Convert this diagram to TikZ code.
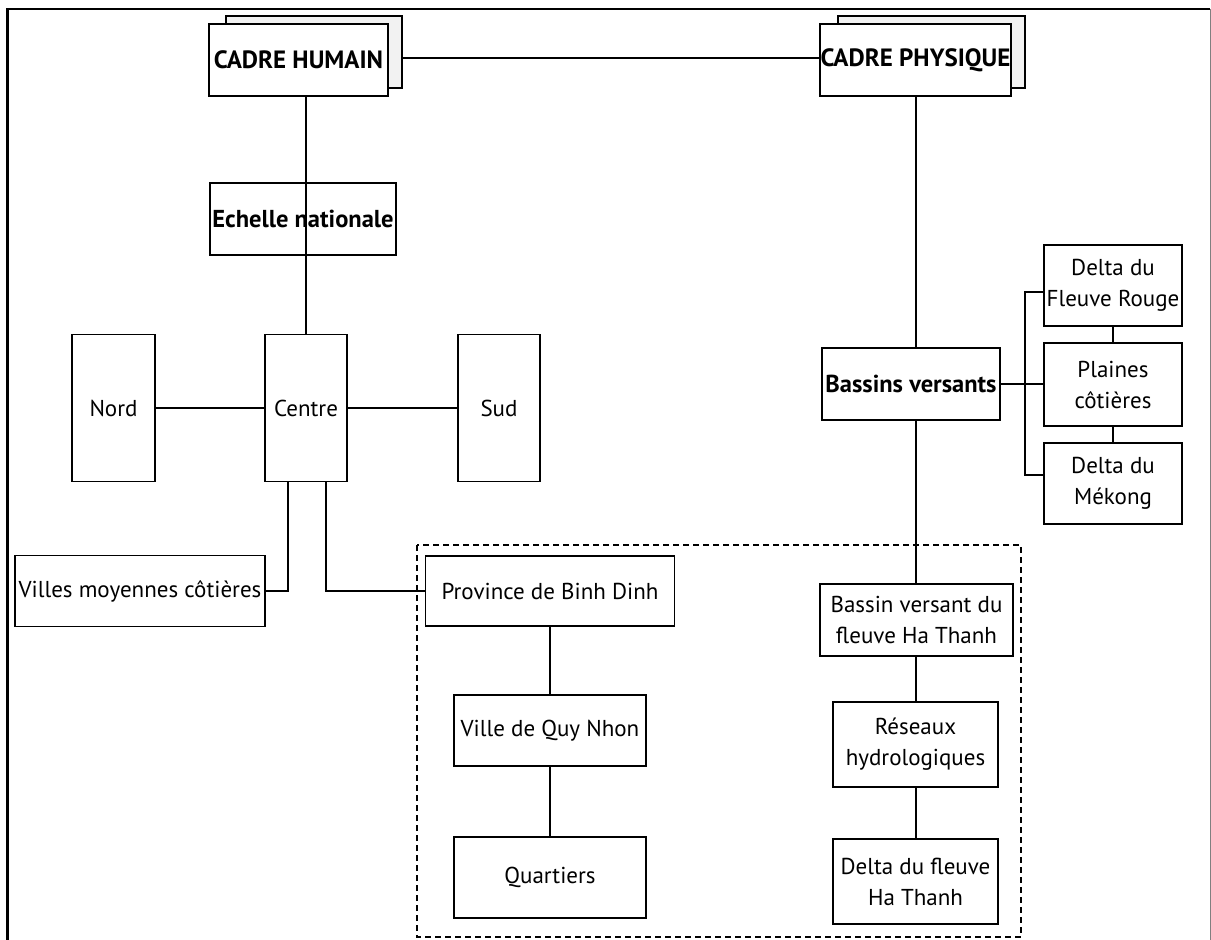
\documentclass[tikz,border=0pt]{standalone}
\usepackage{fontspec}
\setmainfont{PT Sans}
\begin{document}
\begin{tikzpicture}[x=1pt,y=-1pt,
  box/.style={draw,line width=1.8pt,inner sep=0pt,align=center,font=\fontsize{23}{31}\selectfont},
  bbox/.style={box,font=\bfseries\fontsize{24.5}{30}\selectfont},
  shadow/.style={draw,line width=1.8pt,fill=gray!10,inner sep=0pt},
  conn/.style={line width=1.8pt}]
\useasboundingbox (0,0) rectangle (1211,940);
% frame
\draw[line width=2.5pt] (7.5,940) -- (7.5,9) -- (1210,9);
\draw[gray,line width=0.8pt] (1210,9) -- (1210,940);
% dashed region
\draw[line width=1.8pt,dashed,dash pattern=on 6pt off 4pt] (417,545) rectangle (1021,937);
% top boxes
\node[shadow,minimum width=176pt,minimum height=72pt] (humB) at (314,52) {};
\node[bbox,minimum width=179pt,minimum height=72pt,fill=white,font=\bfseries\fontsize{25}{30}\selectfont] (hum) at (298.5,60) {CADRE HUMAIN};
\node[shadow,minimum width=187pt,minimum height=72pt] (phyB) at (931.5,52) {};
\node[bbox,minimum width=191pt,minimum height=72pt,fill=white,font=\bfseries\fontsize{25}{30}\selectfont] (phy) at (915.5,60) {CADRE PHYSIQUE};
% left branch
\node[bbox,minimum width=186pt,minimum height=72pt] (ech) at (303,219) {Echelle nationale};
\node[box,minimum width=82pt,minimum height=147pt] (cen) at (306,408) {Centre};
\node[box,minimum width=83pt,minimum height=147pt] (nord) at (113.5,408) {Nord};
\node[box,minimum width=82pt,minimum height=147pt] (sud) at (499,408) {Sud};
\node[box,minimum width=250pt,minimum height=71pt] (vil) at (140,591) {Villes moyennes côtières};
\node[box,minimum width=249pt,minimum height=70pt] (prov) at (550,591) {Province de Binh Dinh};
\node[box,minimum width=192pt,minimum height=71pt] (quy) at (550,730.5) {Ville de Quy Nhon};
\node[box,minimum width=192pt,minimum height=81pt] (quart) at (550,877.5) {Quartiers};
% right branch
\node[bbox,minimum width=178pt,minimum height=72pt] (bv) at (911,384) {Bassins versants};
\node[box,minimum width=138pt,minimum height=81pt] (dfr) at (1113,285.5) {Delta du\\Fleuve Rouge};
\node[box,minimum width=138pt,minimum height=83pt] (pc) at (1113,384.5) {Plaines\\côtières};
\node[box,minimum width=138pt,minimum height=81pt] (dm) at (1113,483.5) {Delta du\\Mékong};
\node[box,minimum width=193pt,minimum height=72pt] (bvh) at (916.5,620) {Bassin versant du\\fleuve Ha Thanh};
\node[box,minimum width=165pt,minimum height=85pt] (res) at (915.5,744.5) {Réseaux\\hydrologiques};
\node[box,minimum width=165pt,minimum height=85pt] (dfh) at (915.5,881.5) {Delta du fleuve\\Ha Thanh};
\coordinate (br) at (1025,384);
% connectors
\draw[conn] (humB.east |- 0,58) -- (phy.west |- 0,58);
\draw[conn] (hum.south -| cen.north) -- (ech.south -| cen.north);
\draw[conn] (ech.south -| cen.north) -- (cen.north);
\draw[conn] (nord.east) -- (cen.west);
\draw[conn] (cen.east) -- (sud.west);
\draw[conn] ([xshift=-18pt]cen.south) |- (vil.east);
\draw[conn] ([xshift=20pt]cen.south) |- (prov.west);
\draw[conn] (prov.south) -- (quy.north);
\draw[conn] (quy.south) -- (quart.north);
\draw[conn] (phy.south -| 916,0) -- (bv.north -| 916,0);
\draw[conn] (bv.south -| 916,0) -- (bvh.north -| 916,0);
\draw[conn] (bvh.south -| 916,0) -- (res.north -| 916,0);
\draw[conn] (res.south -| 916,0) -- (dfh.north -| 916,0);
\draw[conn] (bv.east) -- (br);
\draw[conn] (br) -- (pc.west |- br);
\draw[conn] ([yshift=-6.5pt]dfr.west) -| (br);
\draw[conn] ([yshift=8.5pt]dm.west) -| (br);
\draw[conn] (dfr.south) -- (pc.north);
\draw[conn] (pc.south) -- (dm.north);
\end{tikzpicture}
\end{document}
